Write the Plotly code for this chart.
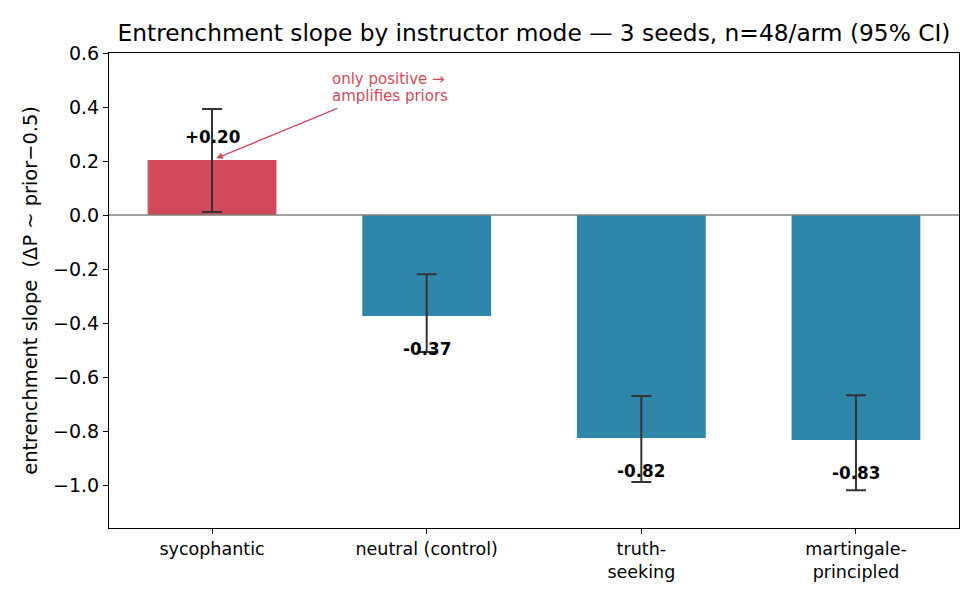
import plotly.graph_objects as go

categories = ["sycophantic", "neutral (control)", "truth-<br>seeking", "martingale-<br>principled"]
slopes = [0.204, -0.374, -0.826, -0.833]
ci_low = [0.011, -0.507, -0.989, -1.019]
ci_high = [0.393, -0.219, -0.670, -0.667]
value_labels = ["+0.20", "-0.37", "-0.82", "-0.83"]
bar_colors = ["#d1495b", "#2e86ab", "#2e86ab", "#2e86ab"]
y_ticks = [0.6, 0.4, 0.2, 0.0, -0.2, -0.4, -0.6, -0.8, -1.0]
note_lines = ["only positive →", "amplifies priors"]

x = list(range(len(categories)))
err_plus = [h - v for h, v in zip(ci_high, slopes)]
err_minus = [v - l for v, l in zip(slopes, ci_low)]

fig = go.Figure()
fig.add_trace(go.Bar(
    x=x, y=slopes, width=0.6,
    marker=dict(color=bar_colors, line=dict(width=0)),
    error_y=dict(type="data", symmetric=False, array=err_plus, arrayminus=err_minus,
                 color="#333333", thickness=2, width=10),
    showlegend=False,
))

annotations = []
for xi, v, lab in zip(x, slopes, value_labels):
    ly = v + 0.085 if v >= 0 else v - 0.122
    annotations.append(dict(x=xi, y=ly, xref="x", yref="y", text="<b>" + lab + "</b>",
                            showarrow=False, font=dict(family="DejaVu Sans", size=16.8, color="black")))

# arrow annotation
annotations.append(dict(x=0.02, y=0.21, xref="x", yref="y", ax=0.59, ay=0.397,
                        axref="x", ayref="y", text="", showarrow=True,
                        arrowhead=2, arrowsize=1, arrowwidth=1.3, arrowcolor="#d1495b"))
for line_text, line_y in zip(note_lines, [0.504, 0.441]):
    annotations.append(dict(x=0.55, y=line_y, xref="x", yref="y", xanchor="left", yanchor="middle",
                            text=line_text, showarrow=False, align="left",
                            font=dict(family="DejaVu Sans", size=15, color="#d1495b")))

fig.update_layout(
    width=980, height=602,
    margin=dict(l=109, r=21, t=53, b=74),
    paper_bgcolor="white", plot_bgcolor="white",
    font=dict(family="DejaVu Sans", color="black"),
    title=dict(text="Entrenchment slope by instructor mode — 3 seeds, n=48/arm (95% CI)",
               xref="paper", x=0.5, xanchor="center", y=0.945, yanchor="middle",
               font=dict(size=23.3, family="DejaVu Sans", color="black")),
    xaxis=dict(range=[-0.48, 3.48], tickmode="array", tickvals=x, ticktext=categories,
               showline=True, linecolor="black", linewidth=1, mirror=True,
               ticks="outside", ticklen=5, tickcolor="black", showgrid=False, zeroline=False,
               tickfont=dict(size=17.5)),
    yaxis=dict(range=[-1.159, 0.6], tickmode="array", tickvals=y_ticks,
               ticktext=[("%.1f" % t).replace("-", "−") for t in y_ticks],
               showline=True, linecolor="black", linewidth=1, mirror=True,
               ticks="outside", ticklen=5, tickcolor="black", showgrid=False, zeroline=False,
               tickfont=dict(size=19),
               title=dict(text="entrenchment slope  (ΔP ~ prior−0.5)", font=dict(size=19.4), standoff=10)),
    shapes=[dict(type="line", xref="paper", x0=0, x1=1, yref="y", y0=0, y1=0,
                 line=dict(color="gray", width=1.3), layer="above")],
    annotations=annotations,
)

fig.write_html("out.html")
